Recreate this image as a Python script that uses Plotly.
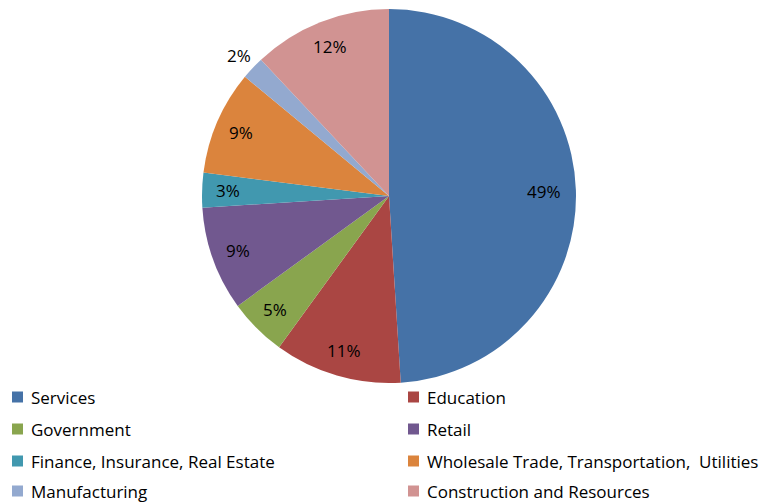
import math
import plotly.graph_objects as go

categories = ["Services", "Education", "Government", "Retail",
              "Finance, Insurance, Real Estate",
              "Wholesale Trade, Transportation,  Utilities",
              "Manufacturing", "Construction and Resources"]
values = [49, 11, 5, 9, 3, 9, 2, 12]
colors = ["#4572A7", "#AA4643", "#89A54E", "#71588F",
          "#4198AF", "#DB843D", "#93A9CF", "#D19392"]

W, H = 767, 502
OFF = 8  # page body margin offset
cx, cy, r = 389 - OFF, 196 - OFF, 187
FONT = "Open Sans"

fig = go.Figure(go.Pie(
    labels=categories, values=values, sort=False, direction="clockwise",
    rotation=0,
    marker=dict(colors=colors, line=dict(width=0)),
    textinfo="none",
    domain=dict(x=[(cx - r) / W, (cx + r) / W], y=[1 - (cy + r) / H, 1 - (cy - r) / H]),
    hoverinfo="label+percent",
    showlegend=False,
))

# percentage labels placed at the mid-angle of each slice
total = sum(values)
cum = 0
annotations = []
for v in values:
    mid = (cum + v / 2) / total * 2 * math.pi
    cum += v
    frac = v / total
    k = (0.83 if frac > 0.3 else 0.86) if frac >= 0.03 else 1.1
    x = cx + k * r * math.sin(mid)
    y = cy - k * r * math.cos(mid)
    annotations.append(dict(
        x=x / W, y=1 - y / H, xref="paper", yref="paper",
        text=f"{round(frac * 100)}%", showarrow=False,
        xanchor="center", yanchor="middle",
        font=dict(family=FONT, size=17, color="black")))

# two-column legend
shapes = []
col_sym = [12 - OFF, 408 - OFF]
col_txt = [29 - OFF, 425 - OFF]
row_y = [397 - OFF, 429 - OFF, 461 - OFF, 491 - OFF]
for i, (name, c) in enumerate(zip(categories, colors)):
    col, row = i % 2, i // 2
    yy = row_y[row]
    shapes.append(dict(type="rect", xref="paper", yref="paper",
                       x0=col_sym[col] / W, x1=(col_sym[col] + 11) / W,
                       y0=1 - (yy + 5.5) / H, y1=1 - (yy - 5.5) / H,
                       fillcolor=c, line=dict(width=0)))
    annotations.append(dict(
        x=col_txt[col] / W, y=1 - yy / H, xref="paper", yref="paper",
        text=name, showarrow=False, xanchor="left", yanchor="middle",
        font=dict(family=FONT, size=17, color="black")))

fig.update_layout(
    width=W, height=H, margin=dict(l=0, r=0, t=0, b=0),
    paper_bgcolor="white", plot_bgcolor="white",
    annotations=annotations, shapes=shapes,
)

fig.write_html("out.html")
